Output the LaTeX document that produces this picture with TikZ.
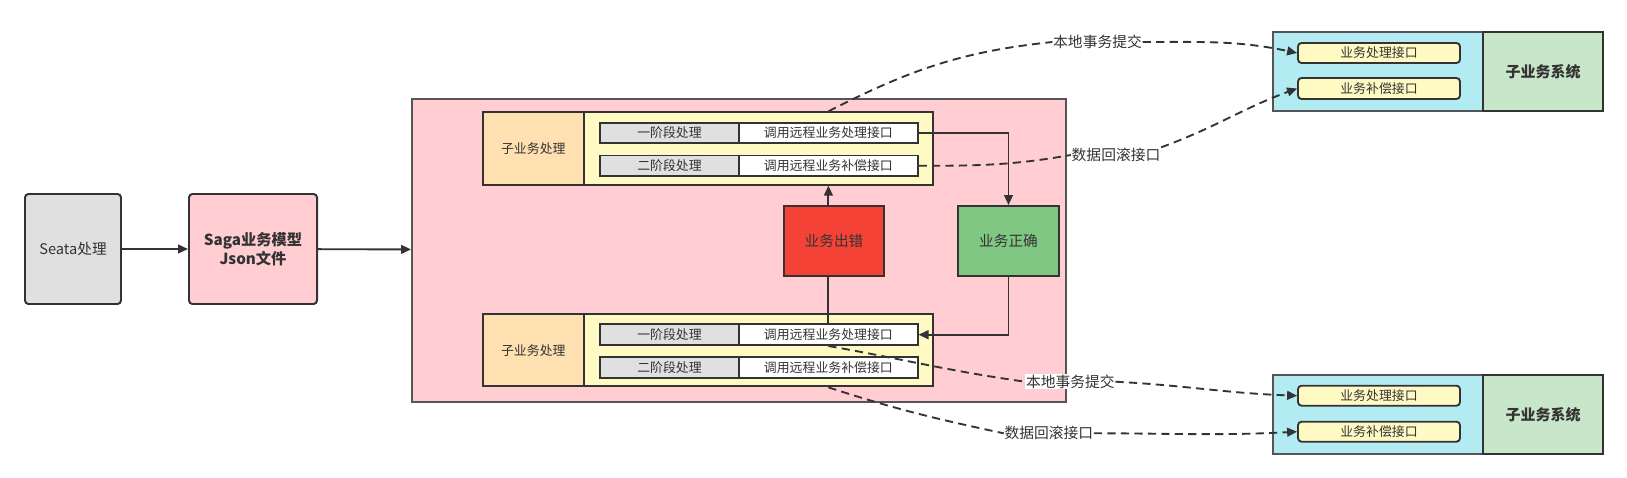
\documentclass[tikz,border=0pt]{standalone}
\usepackage{fontspec}
\setmainfont{Noto Sans CJK SC}
\usepackage{tikz}
\usetikzlibrary{
	arrows.meta
}
\definecolor{ink}{HTML}{333333}
\definecolor{frame}{HTML}{555555}
\definecolor{grayc}{HTML}{E0E0E0}
\definecolor{pinkc}{HTML}{FFCDD2}
\definecolor{orangec}{HTML}{FFE0B0}
\definecolor{yellowc}{HTML}{FFF9C4}
\definecolor{redc}{HTML}{F44336}
\definecolor{greenc}{HTML}{81C784}
\definecolor{cyanc}{HTML}{B2EBF2}
\definecolor{sysc}{HTML}{C8E6C9}

\begin{document}
\begin{tikzpicture}[x=0.03cm,y=-0.03cm,
	wh/.style 2 args={minimum width=#1*0.03cm,minimum height=#2*0.03cm},
	box/.style={draw=ink,line width=1.7pt,inner sep=0pt,text=ink,font=\fontsize{12.5}{15}\selectfont,align=center},
	row/.style={draw=ink,line width=1.6pt,inner sep=0pt,text=ink,font=\fontsize{11}{13}\selectfont,wh={#1}{20.7}},
	api/.style={draw=ink,line width=1.6pt,inner sep=0pt,rounded corners=3pt,fill=yellowc,text=ink,font=\fontsize{11}{13}\selectfont},
	lbl/.style={fill=white,inner sep=0.5pt,text=ink,font=\fontsize{12.6}{15}\selectfont},
	arr/.style={draw=ink,line width=1.6pt,-{Triangle[length=8.5pt,width=7.5pt]}},
	plain/.style={draw=ink,line width=1.6pt},
	dashline/.style={draw=ink,line width=1.6pt,dash pattern=on 7pt off 4.5pt}
]
	\useasboundingbox (0,0) rectangle (1627,478);

	\node[box,fill=grayc,rounded corners=3pt,wh={96}{110}]                   (seata) at (73,249)    {Seata处理};
	\node[box,fill=pinkc,rounded corners=3pt,wh={128}{110},font=\fontsize{13}{16}\selectfont\bfseries] (saga) at (253,249) {Saga业务模型\\Json文件};
	\node[box,fill=pinkc,draw=frame,wh={654}{303.4}]                         (main)  at (739,250.3) {};

	\node[box,fill=orangec,wh={100.6}{72.3},font=\fontsize{11}{13}\selectfont] (sub1) at (533.3,148.5) {子业务处理};
	\node[box,fill=yellowc,wh={349.2}{72.3}]                                 (grp1)  at (758.2,148.5) {};
	\node[row=139.4,fill=grayc] (p11) at (669.5,133)   {一阶段处理};
	\node[row=178.4,fill=white] (c11) at (828.4,133)   {调用远程业务处理接口};
	\node[row=139.4,fill=grayc] (p12) at (669.5,165.8) {二阶段处理};
	\node[row=178.4,fill=white] (c12) at (828.4,165.8) {调用远程业务补偿接口};

	\node[box,fill=orangec,wh={100.6}{72.3},font=\fontsize{11}{13}\selectfont] (sub2) at (533.3,350.2) {子业务处理};
	\node[box,fill=yellowc,wh={349.2}{72.3}]                                 (grp2)  at (758.2,350.2) {};
	\node[row=139.4,fill=grayc] (p21) at (669.5,334.7) {一阶段处理};
	\node[row=178.4,fill=white] (c21) at (828.4,334.7) {调用远程业务处理接口};
	\node[row=139.4,fill=grayc] (p22) at (669.5,367.5) {二阶段处理};
	\node[row=178.4,fill=white] (c22) at (828.4,367.5) {调用远程业务补偿接口};

	\node[box,fill=redc,wh={100}{70}]   (err) at (834,241)    {业务出错};
	\node[box,fill=greenc,wh={101}{70}] (ok)  at (1008.5,241) {业务正确};

	\node[box,fill=cyanc,draw=frame,wh={210}{79}]                          (sys1api) at (1378,71.5) {};
	\node[box,fill=sysc,wh={120}{79},font=\fontsize{12.8}{15}\selectfont\bfseries] (sys1) at (1543,71.5) {子业务系统};
	\node[api,wh={162}{20}] (if11) at (1379,53)   {业务处理接口};
	\node[api,wh={162}{21}] (if12) at (1379,88.5) {业务补偿接口};

	\node[box,fill=cyanc,draw=frame,wh={210}{79}]                          (sys2api) at (1378,414.5) {};
	\node[box,fill=sysc,wh={120}{79},font=\fontsize{12.8}{15}\selectfont\bfseries] (sys2) at (1543,414.5) {子业务系统};
	\node[api,wh={162}{20}] (if21) at (1379,395.7) {业务处理接口};
	\node[api,wh={162}{20}] (if22) at (1379,431.7) {业务补偿接口};

	\node[lbl] (l11) at (1097.5,42)  {本地事务提交};
	\node[lbl] (l12) at (1116,155)   {数据回滚接口};
	\node[lbl] (l21) at (1070.3,381.7) {本地事务提交};
	\node[lbl] (l22) at (1048.8,433.3) {数据回滚接口};

	\draw[arr] (seata) -- (saga);
	\draw[arr] (saga) -- (main);
	\draw[arr] (c11.east) -| (ok.north);
	\draw[arr] (ok.south) |- (c21.east);
	\draw[arr] (err.north -| c12.south) -- (c12.south |- grp1.south);
	\draw[plain] (c21.north) -- (c21.north |- err.south);

	\draw[dashline] (grp1.north -| c11) to[out=27,in=186] (l11.west);
	\draw[dashline,arr] (l11.east) to[out=0,in=168] (if11.west);
	\draw[dashline] (c12.east) to[out=0,in=190] (l12.west);
	\draw[dashline,arr] (l12.north east) to[out=20,in=200] (if12.west);
	\draw[dashline] (c21.south) to[out=-10,in=172] (l21.west);
	\draw[dashline,arr] (l21.east) to[out=-3,in=178] (if21.west);
	\draw[dashline] (grp2.south -| c21) to[out=-18,in=168] (l22.west);
	\draw[dashline,arr] (l22.east) to[out=0,in=183] (if22.west);
\end{tikzpicture}
\end{document}
